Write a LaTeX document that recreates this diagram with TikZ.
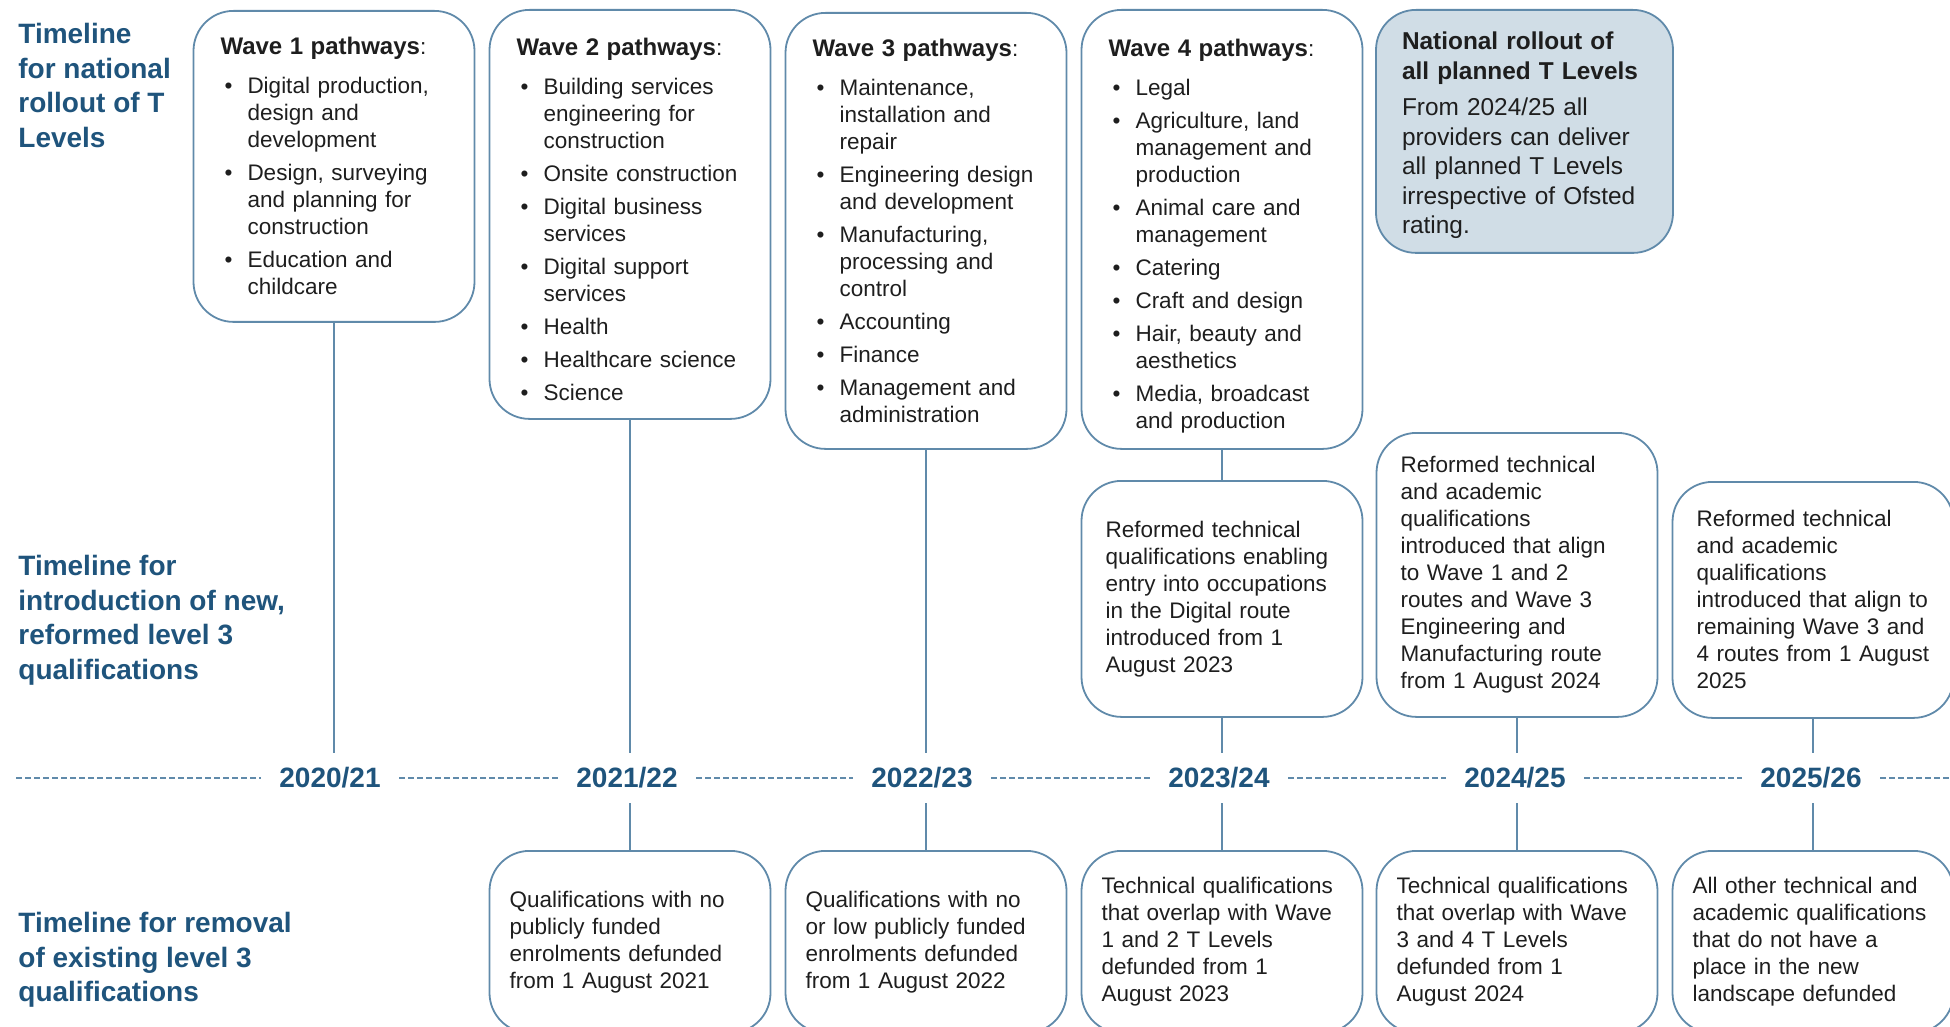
\documentclass[tikz,border=0pt]{standalone}
\usepackage{fontspec}
\setmainfont{Liberation Sans}
\usepackage{xcolor}
\usepackage{tikz}

\definecolor{headblue}{RGB}{31,84,124}
\definecolor{lineblue}{RGB}{96,138,170}
\definecolor{rolloutfill}{RGB}{208,221,230}
\definecolor{bodytext}{RGB}{30,30,30}

\newenvironment{pathlist}{\begin{list}{\textbullet}{%
	\setlength{\leftmargin}{13.5pt}\setlength{\labelwidth}{6pt}%
	\setlength{\labelsep}{7.5pt}\setlength{\itemsep}{3pt}%
	\setlength{\parsep}{0pt}\setlength{\topsep}{0pt}%
	\setlength{\partopsep}{0pt}}}{\end{list}}
% title line; the optional argument is a strut height that lowers the text
\newcommand{\wavetitle}[2][0pt]{\rule{0pt}{#1}{\bfseries\fontsize{12pt}{13.5pt}\selectfont #2}:\par\vspace{6pt}}

\begin{document}
\begin{tikzpicture}[x=0.5pt, y=-0.5pt,
	box/.style={draw=lineblue, line width=0.9pt, rounded corners=20pt, anchor=north, align=left, text=bodytext, font=\fontsize{11.25pt}{13.5pt}\selectfont},
	wavebox/.style={box, text width=113.5pt, inner xsep=13.5pt},
	reformbox/.style={box, text width=116.5pt, inner xsep=12pt},
	removebox/.style={box, text width=120.5pt, inner xsep=10pt, minimum height=91pt},
	heading/.style={anchor=north west, inner sep=0pt, align=left, text=headblue, font=\bfseries\fontsize{14pt}{17.25pt}\selectfont},
	year/.style={text=headblue, font=\bfseries\fontsize{14pt}{16pt}\selectfont, inner xsep=9pt, inner ysep=0pt, minimum height=25pt},
	link/.style={draw=lineblue, line width=0.8pt},
	timeline/.style={draw=lineblue, line width=0.6pt, dash pattern=on 3pt off 1.5pt}]
	\useasboundingbox (0,0) rectangle (1950,1027);
	\clip (0,0) rectangle (1950,1027);

	% row headings
	\node [heading] (hroll) at (18,23) {Timeline\\ for national\\ rollout of T\\ Levels};
	\node [heading] (hintro) at (18,555) {Timeline for\\ introduction of new,\\ reformed level 3\\ qualifications};
	\node [heading] (hremove) at (18,912) {Timeline for removal\\ of existing level 3\\ qualifications};

	% T Level waves
	\node [wavebox, minimum height=155.5pt] (w1) at (334,10) {\wavetitle{Wave 1 pathways}
		\begin{pathlist}
		\item Digital production,\\ design and\\ development
		\item Design, surveying\\ and planning for\\ construction
		\item Education and\\ childcare
		\end{pathlist}};
	\node [wavebox, minimum height=204.5pt] (w2) at (630,9) {\wavetitle[14pt]{Wave 2 pathways}
		\begin{pathlist}
		\item Building services\\ engineering for\\ construction
		\item Onsite construction
		\item Digital business\\ services
		\item Digital support\\ services
		\item Health
		\item Healthcare science
		\item Science
		\end{pathlist}};
	\node [wavebox, minimum height=218pt] (w3) at (926,12) {\wavetitle{Wave 3 pathways}
		\begin{pathlist}
		\item Maintenance,\\ installation and\\ repair
		\item Engineering design\\ and development
		\item Manufacturing,\\ processing and\\ control
		\item Accounting
		\item Finance
		\item Management and\\ administration
		\end{pathlist}};
	\node [wavebox, minimum height=219.5pt] (w4) at (1222,9) {\wavetitle[15pt]{Wave 4 pathways}
		\begin{pathlist}
		\item Legal
		\item Agriculture, land\\ management and\\ production
		\item Animal care and\\ management
		\item Catering
		\item Craft and design
		\item Hair, beauty and\\ aesthetics
		\item Media, broadcast\\ and production
		\end{pathlist}};
	\node [box, fill=rolloutfill, text width=122.5pt, inner xsep=13pt, minimum height=121.5pt, font=\fontsize{12.2pt}{14.75pt}\selectfont] (nat) at (1524.5,9)
		{\rule{0pt}{13pt}{\bfseries National rollout of\\ all planned T Levels}\par\vspace{3.5pt}
		From 2024/25 all\\ providers can deliver\\ all planned T Levels\\ irrespective of Ofsted\\ rating.};

	% reformed qualifications
	\node [reformbox, minimum height=118pt] (r1) at (1222,480) {Reformed technical\\ qualifications enabling\\ entry into occupations\\ in the Digital route\\ introduced from 1\\ August 2023};
	\node [reformbox, minimum height=142pt] (r2) at (1517,432) {Reformed technical\\ and academic\\ qualifications\\ introduced that align\\ to Wave 1 and 2\\ routes and Wave 3\\ Engineering and\\ Manufacturing route\\ from 1 August 2024};
	\node [reformbox, minimum height=118pt] (r3) at (1813,481) {Reformed technical\\ and academic\\ qualifications\\ introduced that align to\\ remaining Wave 3 and\\ 4 routes from 1 August\\ 2025};

	% years
	\node [year] (y1) at (330,778) {2020/21};
	\node [year] (y2) at (627,778) {2021/22};
	\node [year] (y3) at (922,778) {2022/23};
	\node [year] (y4) at (1219,778) {2023/24};
	\node [year] (y5) at (1515,778) {2024/25};
	\node [year] (y6) at (1811,778) {2025/26};
	\coordinate (tstart) at (16,778);
	\coordinate (tend) at (1950,778);
	\draw [timeline] (tstart) -- (y1) (y1) -- (y2) (y2) -- (y3) (y3) -- (y4) (y4) -- (y5) (y5) -- (y6) (y6) -- (tend);

	% removal of existing qualifications
	\node [removebox] (b1) at (630,850) {Qualifications with no\\ publicly funded\\ enrolments defunded\\ from 1 August 2021};
	\node [removebox] (b2) at (926,850) {Qualifications with no\\ or low publicly funded\\ enrolments defunded\\ from 1 August 2022};
	\node [removebox] (b3) at (1222,850) {Technical qualifications\\ that overlap with Wave\\ 1 and 2 T Levels\\ defunded from 1\\ August 2023};
	\node [removebox] (b4) at (1517,850) {Technical qualifications\\ that overlap with Wave\\ 3 and 4 T Levels\\ defunded from 1\\ August 2024};
	\node [removebox] (b5) at (1813,850) {All other technical and\\ academic qualifications\\ that do not have a\\ place in the new\\ landscape defunded};

	% connectors
	\draw [link] (w1) -- (w1 |- y1.north);
	\draw [link] (w2) -- (w2 |- y2.north);
	\draw [link] (w3) -- (w3 |- y3.north);
	\draw [link] (w4) -- (r1);
	\draw [link] (r1) -- (r1 |- y4.north);
	\draw [link] (r2) -- (r2 |- y5.north);
	\draw [link] (r3) -- (r3 |- y6.north);
	\draw [link] (b1 |- y2.south) -- (b1);
	\draw [link] (b2 |- y3.south) -- (b2);
	\draw [link] (b3 |- y4.south) -- (b3);
	\draw [link] (b4 |- y5.south) -- (b4);
	\draw [link] (b5 |- y6.south) -- (b5);
\end{tikzpicture}
\end{document}
